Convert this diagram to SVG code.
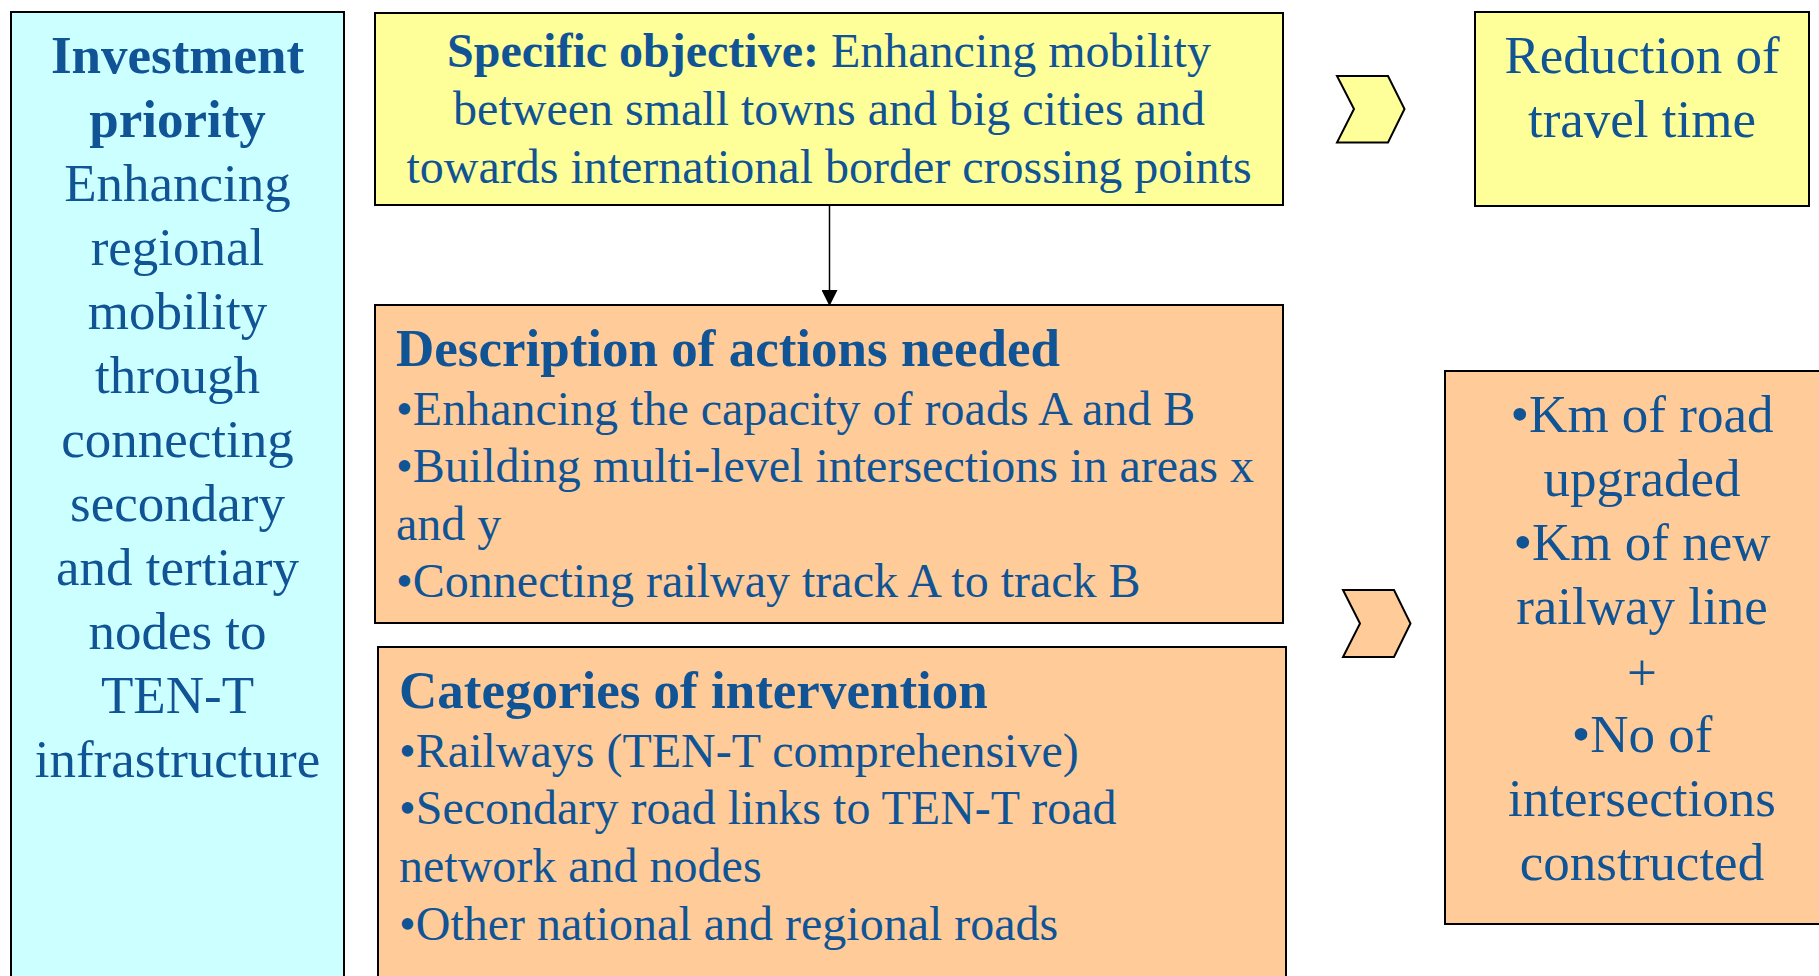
<svg xmlns="http://www.w3.org/2000/svg" width="1819" height="976" viewBox="0 0 1819 976">
<defs>
<style>
.t{font-family:"Liberation Serif","Times New Roman",serif;fill:#105496;}
.b{font-weight:bold;}
.c{text-anchor:middle;}
.box{stroke:#000;stroke-width:2;}
.cy{fill:#CCFFFF;}
.ye{fill:#FFFF99;}
.or{fill:#FFCC99;}
</style>
<marker id="ah" markerWidth="16" markerHeight="16" refX="15" refY="8" orient="auto" markerUnits="userSpaceOnUse">
<path d="M0,0 L16,8 L0,16 Z" fill="#000"/>
</marker>
</defs>
<rect width="1819" height="976" fill="#fff"/>

<g id="investment-priority">
<rect class="box cy" x="11" y="12" width="333" height="1000"/>
<g class="t c" font-size="53">
<text class="b" x="177.5" y="73">Investment</text>
<text class="b" x="177.5" y="137">priority</text>
<text x="177.5" y="201">Enhancing</text>
<text x="177.5" y="265">regional</text>
<text x="177.5" y="329">mobility</text>
<text x="177.5" y="393">through</text>
<text x="177.5" y="457">connecting</text>
<text x="177.5" y="521">secondary</text>
<text x="177.5" y="585">and tertiary</text>
<text x="177.5" y="649">nodes to</text>
<text x="177.5" y="713">TEN-T</text>
<text x="177.5" y="777">infrastructure</text>
</g>
</g>

<g id="specific-objective">
<rect class="box ye" x="375" y="13" width="908" height="192"/>
<g class="t c" font-size="48">
<text x="829" y="67"><tspan class="b">Specific objective:</tspan> Enhancing mobility</text>
<text x="829" y="125">between small towns and big cities and</text>
<text x="829" y="183">towards international border crossing points</text>
</g>
</g>

<g id="actions">
<rect class="box or" x="375" y="305" width="908" height="318"/>
<g class="t" font-size="48">
<text class="b" x="396" y="366" font-size="53">Description of actions needed</text>
<text x="396" y="425">•Enhancing the capacity of roads A and B</text>
<text x="396" y="482">•Building multi-level intersections in areas x</text>
<text x="396" y="540">and y</text>
<text x="396" y="597">•Connecting railway track A to track B</text>
</g>
</g>

<g id="categories">
<rect class="box or" x="378" y="647" width="908" height="400"/>
<g class="t" font-size="48">
<text class="b" x="399" y="708" font-size="53">Categories of intervention</text>
<text x="399" y="767">•Railways (TEN-T comprehensive)</text>
<text x="399" y="824">•Secondary road links to TEN-T road</text>
<text x="399" y="882">network and nodes</text>
<text x="399" y="940">•Other national and regional roads</text>
</g>
</g>

<g id="chevron-result">
<polygon class="box ye" stroke-width="1.5" points="1337,76 1388,76 1404.5,109 1388,142.5 1337,142.5 1354,109"/>
</g>

<g id="result">
<rect class="box ye" x="1475" y="12" width="334" height="194"/>
<g class="t c" font-size="53">
<text x="1642" y="73">Reduction of</text>
<text x="1642" y="137">travel time</text>
</g>
</g>

<g id="chevron-output">
<polygon class="box or" stroke-width="1.5" points="1343,590 1394,590 1410.5,623.5 1394,657 1343,657 1360,623.5"/>
</g>

<g id="output">
<rect class="box or" x="1445" y="371" width="400" height="553"/>
<g class="t c" font-size="53">
<text x="1642" y="432">•Km of road</text>
<text x="1642" y="496">upgraded</text>
<text x="1642" y="560">•Km of new</text>
<text x="1642" y="624">railway line</text>
<text x="1642" y="690">+</text>
<text x="1642" y="752">•No of</text>
<text x="1642" y="816">intersections</text>
<text x="1642" y="880">constructed</text>
</g>
</g>

<g id="connectors">
<line x1="829.5" y1="206" x2="829.5" y2="305" stroke="#000" stroke-width="1.5" marker-end="url(#ah)"/>
</g>
</svg>
